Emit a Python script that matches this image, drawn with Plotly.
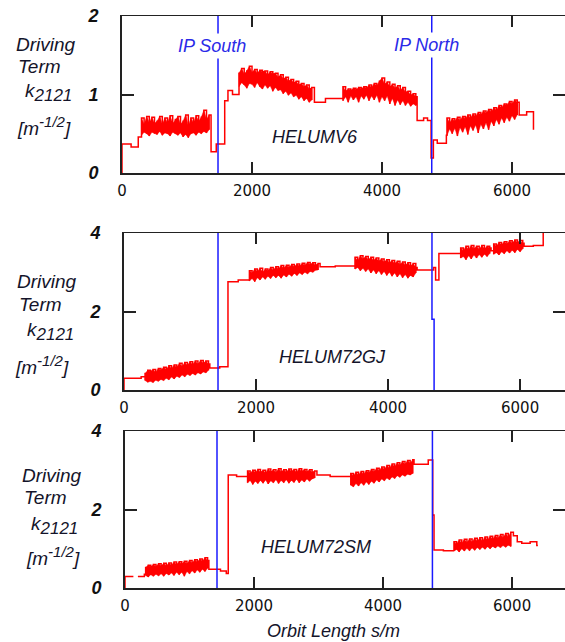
import plotly.graph_objects as go

# ---------------- data ----------------
# Top panel: HELUMV6 (k2121 in m^-1/2 vs orbit length s in m)
top_s0 = [0, 0, 140, 140, 250, 250, 290]
top_k0 = [0, 0.37, 0.37, 0.33, 0.33, 0.46, 0.46]
top_b1_s = [300, 340, 380, 420, 460, 500, 540, 580, 620, 660, 700, 740, 780, 820, 860, 900, 940, 980, 1020, 1060, 1100, 1140, 1180, 1220, 1260, 1300, 1340]
top_b1_hi = [0.70, 0.62, 0.72, 0.64, 0.71, 0.63, 0.66, 0.72, 0.62, 0.70, 0.64, 0.73, 0.63, 0.68, 0.72, 0.62, 0.66, 0.74, 0.60, 0.70, 0.64, 0.73, 0.66, 0.71, 0.80, 0.68, 0.74]
top_b1_lo = [0.48, 0.52, 0.50, 0.47, 0.52, 0.50, 0.49, 0.53, 0.48, 0.51, 0.50, 0.47, 0.52, 0.50, 0.48, 0.51, 0.46, 0.49, 0.45, 0.50, 0.51, 0.48, 0.52, 0.50, 0.53, 0.51, 0.55]
top_s1 = [1370, 1370, 1450, 1450, 1580, 1580, 1630, 1630, 1700, 1700, 1790]
top_k1 = [0.60, 0.27, 0.27, 0.37, 0.37, 0.92, 0.92, 1.05, 1.05, 1.00, 1.00]
top_b2_s = [1800, 1840, 1880, 1920, 1960, 2000, 2040, 2080, 2120, 2160, 2200, 2240, 2280, 2320, 2360, 2400, 2440, 2480, 2520, 2560, 2600, 2640, 2680, 2720, 2760, 2800, 2840, 2880, 2920]
top_b2_hi = [1.27, 1.33, 1.26, 1.30, 1.36, 1.28, 1.32, 1.27, 1.31, 1.29, 1.30, 1.25, 1.29, 1.26, 1.27, 1.22, 1.25, 1.20, 1.22, 1.17, 1.19, 1.15, 1.17, 1.12, 1.14, 1.10, 1.12, 1.07, 1.09]
top_b2_lo = [1.10, 1.15, 1.12, 1.08, 1.14, 1.13, 1.09, 1.15, 1.10, 1.07, 1.12, 1.08, 1.11, 1.04, 1.09, 1.05, 1.06, 1.01, 1.04, 0.99, 1.02, 0.97, 0.99, 0.94, 0.97, 0.92, 0.95, 0.90, 0.93]
top_s2 = [2960, 2960, 3130, 3130, 3400]
top_k2 = [1.00, 0.90, 0.90, 0.95, 0.95]
top_b3_s = [3400, 3440, 3480, 3520, 3560, 3600, 3640, 3680, 3720, 3760, 3800, 3840, 3880, 3920, 3960, 4000, 4040, 4080, 4120, 4160, 4200, 4240, 4280, 4320, 4360, 4400, 4440, 4480, 4520]
top_b3_hi = [1.10, 1.04, 1.07, 1.05, 1.08, 1.06, 1.09, 1.07, 1.10, 1.08, 1.12, 1.09, 1.14, 1.11, 1.17, 1.21, 1.13, 1.16, 1.10, 1.13, 1.08, 1.11, 1.05, 1.09, 1.03, 1.04, 0.99, 1.01, 0.97]
top_b3_lo = [0.92, 0.97, 0.90, 0.98, 0.93, 0.97, 0.90, 0.98, 0.94, 0.99, 0.92, 0.98, 0.93, 0.99, 0.90, 0.97, 0.92, 0.98, 0.88, 0.95, 0.86, 0.93, 0.87, 0.92, 0.86, 0.90, 0.85, 0.88, 0.86]
top_s3 = [4540, 4540, 4640, 4640, 4700, 4700, 4755, 4755, 4790, 4790, 4850, 4850, 4990, 4990]
top_k3 = [0.97, 0.67, 0.67, 0.70, 0.70, 0.67, 0.67, 0.19, 0.19, 0.42, 0.42, 0.38, 0.38, 0.48]
top_b4_s = [5000, 5040, 5080, 5120, 5160, 5200, 5240, 5280, 5320, 5360, 5400, 5440, 5480, 5520, 5560, 5600, 5640, 5680, 5720, 5760, 5800, 5840, 5880, 5920, 5960, 6000, 6040, 6080]
top_b4_hi = [0.70, 0.64, 0.69, 0.66, 0.71, 0.67, 0.72, 0.69, 0.74, 0.70, 0.75, 0.72, 0.77, 0.74, 0.79, 0.76, 0.81, 0.78, 0.83, 0.80, 0.86, 0.83, 0.88, 0.86, 0.91, 0.88, 0.93, 0.90]
top_b4_lo = [0.48, 0.56, 0.50, 0.57, 0.47, 0.58, 0.52, 0.59, 0.49, 0.60, 0.54, 0.61, 0.51, 0.62, 0.56, 0.64, 0.55, 0.66, 0.60, 0.68, 0.62, 0.70, 0.64, 0.71, 0.66, 0.73, 0.68, 0.74]
top_s4 = [6110, 6110, 6225, 6225, 6330, 6330]
top_k4 = [0.90, 0.74, 0.74, 0.78, 0.78, 0.55]

# Middle panel: HELUM72GJ
mid_s0 = [0, 0, 260, 260, 310]
mid_k0 = [0, 0.30, 0.30, 0.34, 0.34]
mid_b1_s = [320, 360, 400, 440, 480, 520, 560, 600, 640, 680, 720, 760, 800, 840, 880, 920, 960, 1000, 1040, 1080, 1120, 1160, 1200, 1240, 1280]
mid_b1_hi = [0.42, 0.50, 0.47, 0.52, 0.45, 0.55, 0.50, 0.58, 0.52, 0.62, 0.55, 0.64, 0.58, 0.68, 0.60, 0.70, 0.63, 0.72, 0.65, 0.74, 0.66, 0.75, 0.68, 0.74, 0.66]
mid_b1_lo = [0.24, 0.20, 0.22, 0.19, 0.25, 0.22, 0.27, 0.24, 0.30, 0.26, 0.33, 0.28, 0.35, 0.32, 0.38, 0.34, 0.40, 0.37, 0.42, 0.38, 0.44, 0.41, 0.46, 0.44, 0.50]
mid_s1 = [1300, 1300, 1450, 1450, 1575, 1575, 1730, 1730, 1890]
mid_k1 = [0.58, 0.56, 0.56, 0.59, 0.59, 2.76, 2.76, 2.80, 2.80]
mid_b2_s = [1900, 1940, 1980, 2020, 2060, 2100, 2140, 2180, 2220, 2260, 2300, 2340, 2380, 2420, 2460, 2500, 2540, 2580, 2620, 2660, 2700, 2740, 2780, 2820, 2860, 2900, 2940]
mid_b2_hi = [3.04, 2.98, 3.08, 3.02, 3.10, 3.00, 3.08, 3.04, 3.12, 3.05, 3.14, 3.08, 3.17, 3.10, 3.18, 3.12, 3.20, 3.14, 3.21, 3.15, 3.23, 3.17, 3.25, 3.20, 3.24, 3.18, 3.22]
mid_b2_lo = [2.78, 2.84, 2.76, 2.86, 2.80, 2.88, 2.82, 2.90, 2.84, 2.92, 2.86, 2.92, 2.85, 2.93, 2.88, 2.95, 2.90, 2.97, 2.92, 2.98, 2.94, 3.00, 2.96, 3.02, 3.00, 3.05, 3.06]
mid_s2 = [2970, 2970, 3200, 3200, 3480]
mid_k2 = [3.15, 3.14, 3.14, 3.16, 3.16]
mid_b3_s = [3500, 3540, 3580, 3620, 3660, 3700, 3740, 3780, 3820, 3860, 3900, 3940, 3980, 4020, 4060, 4100, 4140, 4180, 4220, 4260, 4300, 4340, 4380, 4420]
mid_b3_hi = [3.38, 3.30, 3.42, 3.34, 3.40, 3.32, 3.38, 3.30, 3.36, 3.28, 3.34, 3.26, 3.32, 3.24, 3.30, 3.22, 3.28, 3.20, 3.26, 3.18, 3.24, 3.16, 3.22, 3.12]
mid_b3_lo = [3.08, 3.12, 3.04, 3.10, 3.02, 3.08, 2.98, 3.06, 2.96, 3.04, 2.94, 3.02, 2.92, 3.00, 2.90, 2.98, 2.88, 2.96, 2.86, 2.94, 2.85, 2.92, 2.88, 2.98]
mid_s3 = [4440, 4440, 4690, 4690, 4720, 4720, 4770, 4770, 5090]
mid_k3 = [3.06, 3.06, 3.06, 3.12, 3.12, 2.80, 2.80, 3.48, 3.48]
mid_b4_s = [5100, 5140, 5180, 5220, 5260, 5300, 5340, 5380, 5420, 5460, 5500, 5540]
mid_b4_hi = [3.62, 3.55, 3.66, 3.58, 3.68, 3.60, 3.66, 3.58, 3.68, 3.60, 3.66, 3.62]
mid_b4_lo = [3.36, 3.40, 3.32, 3.42, 3.34, 3.44, 3.36, 3.45, 3.38, 3.46, 3.40, 3.48]
mid_s4 = [5560, 5560, 5590]
mid_k4 = [3.55, 3.55, 3.55]
mid_b5_s = [5600, 5640, 5680, 5720, 5760, 5800, 5840, 5880, 5920, 5960, 6000, 6040]
mid_b5_hi = [3.72, 3.66, 3.76, 3.70, 3.78, 3.72, 3.80, 3.74, 3.82, 3.76, 3.81, 3.74]
mid_b5_lo = [3.46, 3.50, 3.44, 3.52, 3.47, 3.55, 3.49, 3.56, 3.50, 3.58, 3.52, 3.60]
mid_s5 = [6060, 6060, 6200, 6200, 6350, 6350]
mid_k5 = [3.66, 3.66, 3.66, 3.68, 3.68, 4.10]

# Bottom panel: HELUM72SM
bot_s0 = [0, 0, 130, None, 200, 300, 300, 310]
bot_k0 = [0, 0.29, 0.29, None, 0.29, 0.29, 0.35, 0.35]
bot_b1_s = [320, 360, 400, 440, 480, 520, 560, 600, 640, 680, 720, 760, 800, 840, 880, 920, 960, 1000, 1040, 1080, 1120, 1160, 1200, 1240, 1280]
bot_b1_hi = [0.52, 0.58, 0.54, 0.60, 0.55, 0.62, 0.56, 0.63, 0.57, 0.64, 0.58, 0.66, 0.60, 0.67, 0.61, 0.68, 0.62, 0.70, 0.64, 0.72, 0.66, 0.74, 0.68, 0.77, 0.70]
bot_b1_lo = [0.32, 0.28, 0.34, 0.30, 0.35, 0.31, 0.36, 0.30, 0.37, 0.33, 0.38, 0.32, 0.40, 0.34, 0.40, 0.30, 0.42, 0.36, 0.44, 0.38, 0.46, 0.40, 0.48, 0.42, 0.50]
bot_s1 = [1300, 1300, 1480, 1480, 1570, 1570, 1600, 1600, 1730, 1730, 1890]
bot_k1 = [0.55, 0.48, 0.48, 0.43, 0.43, 0.37, 0.37, 2.88, 2.88, 2.84, 2.84]
bot_b2_s = [1900, 1940, 1980, 2020, 2060, 2100, 2140, 2180, 2220, 2260, 2300, 2340, 2380, 2420, 2460, 2500, 2540, 2580, 2620, 2660, 2700, 2740, 2780, 2820, 2860, 2900, 2940]
bot_b2_hi = [2.98, 2.92, 3.00, 2.94, 3.02, 2.95, 3.00, 2.93, 3.03, 2.96, 3.01, 2.94, 3.04, 2.96, 3.01, 2.95, 3.03, 2.97, 3.02, 2.95, 3.04, 2.97, 3.02, 2.96, 3.01, 2.95, 2.98]
bot_b2_lo = [2.68, 2.74, 2.64, 2.72, 2.66, 2.74, 2.67, 2.75, 2.65, 2.73, 2.68, 2.76, 2.66, 2.74, 2.68, 2.76, 2.67, 2.74, 2.69, 2.77, 2.68, 2.75, 2.70, 2.78, 2.72, 2.78, 2.80]
bot_s2 = [2975, 2975, 3180, 3180, 3490]
bot_k2 = [2.88, 2.88, 2.88, 2.84, 2.84]
bot_b3_s = [3500, 3540, 3580, 3620, 3660, 3700, 3740, 3780, 3820, 3860, 3900, 3940, 3980, 4020, 4060, 4100, 4140, 4180, 4220, 4260, 4300, 4340, 4380, 4420, 4460]
bot_b3_hi = [2.92, 2.86, 2.95, 2.88, 2.97, 2.90, 2.99, 2.93, 3.02, 2.96, 3.05, 2.99, 3.08, 3.02, 3.12, 3.05, 3.16, 3.09, 3.19, 3.12, 3.22, 3.15, 3.25, 3.18, 3.27]
bot_b3_lo = [2.62, 2.58, 2.66, 2.60, 2.68, 2.62, 2.70, 2.64, 2.72, 2.67, 2.75, 2.70, 2.78, 2.73, 2.80, 2.76, 2.83, 2.79, 2.86, 2.82, 2.88, 2.85, 2.90, 2.88, 2.92]
bot_s3 = [4480, 4480, 4700, 4700, 4770, 4770, 4790, 4790, 4935, 4935, 5090]
bot_k3 = [3.15, 3.15, 3.15, 3.26, 3.26, 1.86, 1.86, 0.97, 0.97, 0.95, 0.95]
bot_b4_s = [5100, 5140, 5180, 5220, 5260, 5300, 5340, 5380, 5420, 5460, 5500, 5540, 5580, 5620, 5660, 5700, 5740, 5780, 5820, 5860, 5900, 5940, 5980]
bot_b4_hi = [1.18, 1.12, 1.22, 1.14, 1.24, 1.16, 1.25, 1.17, 1.27, 1.19, 1.28, 1.20, 1.30, 1.22, 1.32, 1.24, 1.34, 1.26, 1.36, 1.28, 1.39, 1.30, 1.42]
bot_b4_lo = [0.94, 0.98, 0.92, 1.00, 0.94, 1.01, 0.95, 1.02, 0.96, 1.03, 0.98, 1.04, 0.99, 1.05, 1.00, 1.06, 1.02, 1.07, 1.03, 1.08, 1.04, 1.09, 1.06]
bot_s4 = [6020, 6020, 6080, 6080, 6150, 6150, 6280, 6280, 6383, 6383, 6400]
bot_k4 = [1.38, 1.33, 1.33, 1.18, 1.18, 1.14, 1.14, 1.18, 1.18, 1.08, 1.08]

# IP positions (orbit length s/m) per panel
ip_south = [1477, 1424, 1426]
ip_north_top = [4765, 4665, 4765]
ip_north_bottom = [4765, 4697, 4765]
ip_north_split = [None, 1.8, None]

panel_names = ["HELUMV6", "HELUM72GJ", "HELUM72SM"]
y_max = [2, 4, 4]
y_ticks = [[0, 1, 2], [0, 2, 4], [0, 2, 4]]
x_ticks = [0, 2000, 4000, 6000]
x_max = [6815, 6680, 6820]

top_pieces = [(top_s0, top_k0), (top_b1_s, top_b1_lo, top_b1_hi), (top_s1, top_k1),
              (top_b2_s, top_b2_lo, top_b2_hi), (top_s2, top_k2),
              (top_b3_s, top_b3_lo, top_b3_hi), (top_s3, top_k3),
              (top_b4_s, top_b4_lo, top_b4_hi), (top_s4, top_k4)]
mid_pieces = [(mid_s0, mid_k0), (mid_b1_s, mid_b1_lo, mid_b1_hi), (mid_s1, mid_k1),
              (mid_b2_s, mid_b2_lo, mid_b2_hi), (mid_s2, mid_k2),
              (mid_b3_s, mid_b3_lo, mid_b3_hi), (mid_s3, mid_k3),
              (mid_b4_s, mid_b4_lo, mid_b4_hi), (mid_s4, mid_k4),
              (mid_b5_s, mid_b5_lo, mid_b5_hi), (mid_s5, mid_k5)]
bot_pieces = [(bot_s0, bot_k0), (bot_b1_s, bot_b1_lo, bot_b1_hi), (bot_s1, bot_k1),
              (bot_b2_s, bot_b2_lo, bot_b2_hi), (bot_s2, bot_k2),
              (bot_b3_s, bot_b3_lo, bot_b3_hi), (bot_s3, bot_k3),
              (bot_b4_s, bot_b4_lo, bot_b4_hi), (bot_s4, bot_k4)]


def build_path(pieces):
    xs, ys = [], []
    for p in pieces:
        if len(p) == 2:
            xs += list(p[0]); ys += list(p[1])
        else:
            for s, lo, hi in zip(p[0], p[1], p[2]):
                xs += [s, s]; ys += [lo, hi]
    return xs, ys


def build_fill(pieces):
    # closed polygons covering each oscillating band (lo edge forward, hi edge back)
    xs, ys = [], []
    for p in pieces:
        if len(p) == 3:
            xs += list(p[0]) + list(p[0])[::-1] + [p[0][0], None]
            ys += list(p[1]) + list(p[2])[::-1] + [p[1][0], None]
    return xs, ys


# ---------------- figure ----------------
W, H = 565, 642
def px(x):
    return x / W
def py(y):
    return 1 - y / H

# plot areas in pixels: (left, top, bottom)
areas = [(122, 16, 173), (124, 233, 390), (125, 431, 588)]

fig = go.Figure()
RED = "#ff0000"
BLUE = "#1a1aff"
TXT = "#14142a"
FONT = "Liberation Sans"

for i, pieces in enumerate([top_pieces, mid_pieces, bot_pieces]):
    xa = "x" if i == 0 else f"x{i+1}"
    ya = "y" if i == 0 else f"y{i+1}"
    fx, fy = build_fill(pieces)
    fig.add_trace(go.Scatter(x=fx, y=fy, mode="lines", xaxis=xa, yaxis=ya,
                             fill="toself", fillcolor=RED, line=dict(color=RED, width=0.5),
                             showlegend=False, hoverinfo="skip"))
    xs, ys = build_path(pieces)
    fig.add_trace(go.Scatter(x=xs, y=ys, mode="lines", xaxis=xa, yaxis=ya,
                             line=dict(color=RED, width=1.5, shape="hv"),
                             showlegend=False, hoverinfo="skip"))
    fig.add_trace(go.Scatter(x=[ip_south[i], ip_south[i]], y=[0, y_max[i]], mode="lines",
                             xaxis=xa, yaxis=ya, line=dict(color=BLUE, width=1.5),
                             showlegend=False, hoverinfo="skip"))
    if ip_north_split[i] is None:
        nx, ny = [ip_north_top[i], ip_north_top[i]], [0, y_max[i]]
    else:
        nx = [ip_north_top[i], ip_north_top[i], ip_north_bottom[i], ip_north_bottom[i]]
        ny = [y_max[i], ip_north_split[i], ip_north_split[i], 0]
    fig.add_trace(go.Scatter(x=nx, y=ny, mode="lines", xaxis=xa, yaxis=ya,
                             line=dict(color=BLUE, width=1.5),
                             showlegend=False, hoverinfo="skip"))

layout = dict(width=W, height=H, margin=dict(l=0, r=0, t=0, b=0, pad=0),
              template="none", autosize=False,
              paper_bgcolor="white", plot_bgcolor="white", showlegend=False)

for i, (left, top, bottom) in enumerate(areas):
    xk = "xaxis" if i == 0 else f"xaxis{i+1}"
    yk = "yaxis" if i == 0 else f"yaxis{i+1}"
    ya = "y" if i == 0 else f"y{i+1}"
    xa = "x" if i == 0 else f"x{i+1}"
    layout[xk] = dict(domain=[px(left), 1.0], anchor=ya, range=[0, x_max[i]],
                      automargin=False,
                      tickvals=x_ticks, ticktext=[str(v) for v in x_ticks],
                      ticks="inside", ticklen=11, tickwidth=2, tickcolor="#222",
                      showline=True, linecolor="#222", linewidth=1.5, mirror="ticks",
                      showgrid=False, zeroline=False, ticklabelstandoff=3,
                      tickfont=dict(family="DejaVu Sans", size=15, color="#111"))
    layout[yk] = dict(domain=[py(bottom), py(top)], anchor=xa, range=[0, y_max[i]],
                      automargin=False,
                      tickvals=y_ticks[i], ticktext=[str(v) for v in y_ticks[i]],
                      ticks="inside", ticklen=12, tickwidth=2, tickcolor="#222",
                      showline=True, linecolor="#222", linewidth=2, mirror="ticks",
                      showgrid=False, zeroline=False, ticklabelstandoff=18,
                      tickfont=dict(family=FONT, size=18, color="#111",
                                    style="italic", weight="bold"))

annotations = []
def label(text, x, y, size=18, color=TXT, anchor="left", bg=None):
    d = dict(text=text, x=px(x), y=py(y), xref="paper", yref="paper",
             xanchor=anchor, yanchor="middle", showarrow=False,
             font=dict(family=FONT, size=size, color=color, style="italic"))
    if bg:
        d["bgcolor"] = bg
        d["borderpad"] = 2
    annotations.append(d)

ylab_rows = [
    [(14, 44), (16, 66), (23, 93), (15, 126)],
    [(15, 282), (17, 304), (25, 332), (13, 365)],
    [(20, 475), (22, 497), (29, 525), (24, 556)],
]
ylab_text = ["Driving", "Term",
             "k<sub><span style='font-size:17px'>2121</span></sub>",
             "[m<sup><span style='font-size:15px'>-1/2</span></sup>]"]
for rows in ylab_rows:
    for t, (x, y) in zip(ylab_text, rows):
        label(t, x, y, size=19)

label(panel_names[0], 315, 137, size=18, anchor="center")
label(panel_names[1], 332, 357, size=18, anchor="center")
label(panel_names[2], 316, 547, size=18, anchor="center")

label("IP South", 212, 46, size=18, color="#2a2ae8", anchor="center", bg="white")
label("IP North", 426, 45, size=18, color="#2a2ae8", anchor="center", bg="white")

label("Orbit Length s/m", 333, 631, size=18, anchor="center")

layout["annotations"] = annotations
fig.update_layout(**layout)
fig.write_html("out.html", config={"displayModeBar": False, "staticPlot": True},
               post_script="document.body.style.margin='0px';document.body.style.padding='0px';")
